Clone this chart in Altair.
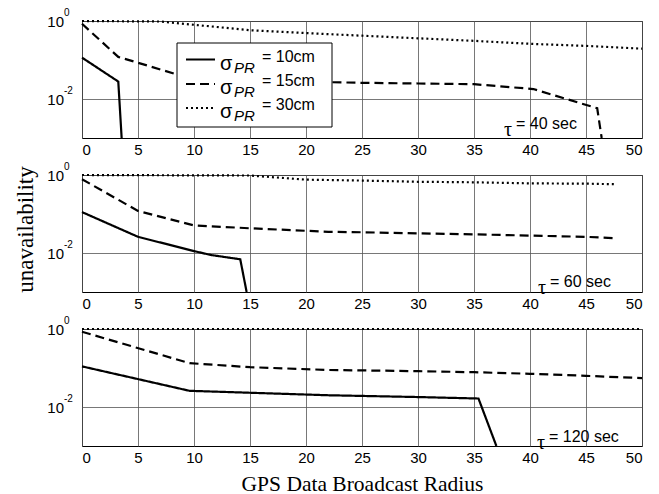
import altair as alt
import pandas as pd

# Broadcast radius (x) and unavailability (y) for each pseudorange sigma,
# one block per correction latency tau.

# tau = 40 sec
r40_10 = [0, 3.24, 3.54]
u40_10 = [0.115, 0.028, 0.001]
r40_15 = [0, 3.24, 5, 8.2, 15, 22, 25, 30, 35, 40.3, 46.0, 46.4]
u40_15 = [0.85, 0.12, 0.085, 0.045, 0.033, 0.027, 0.026, 0.025, 0.024, 0.018, 0.0058, 0.001]
r40_30 = [0, 7, 10, 15, 20, 25, 30, 35, 40, 45, 50]
u40_30 = [1.0, 0.97, 0.80, 0.58, 0.49, 0.42, 0.36, 0.31, 0.26, 0.23, 0.195]

# tau = 60 sec
r60_10 = [0, 5, 10, 11.5, 14.13, 14.7]
u60_10 = [0.112, 0.026, 0.0112, 0.0089, 0.0069, 0.001]
r60_15 = [0, 5, 10, 15, 22, 25, 35, 45, 47.5]
u60_15 = [0.78, 0.12, 0.051, 0.043, 0.035, 0.034, 0.030, 0.026, 0.024]
r60_30 = [0, 15, 20, 25, 30, 35, 40, 45, 47.5]
u60_30 = [1.0, 0.97, 0.76, 0.72, 0.67, 0.65, 0.61, 0.60, 0.58]

# tau = 120 sec
r120_10 = [0, 9.6, 22, 30, 35.4, 37.0]
u120_10 = [0.11, 0.026, 0.020, 0.018, 0.0165, 0.001]
r120_15 = [0, 9.6, 15, 22, 30, 35, 40, 45, 50]
u120_15 = [0.85, 0.133, 0.105, 0.089, 0.083, 0.078, 0.071, 0.063, 0.055]
r120_30 = [0, 50]
u120_30 = [1.0, 1.0]

series_names = ["10cm", "15cm", "30cm"]
x_ticks = list(range(0, 51, 5))
y_tick_vals = [1.0, 0.01]
y_tick_exps = ["0", "-2"]
tau_labels = ["= 40 sec", "= 60 sec", "= 120 sec"]

W, H = 560, 117
SANS = "Liberation Sans"
SERIF = "Liberation Serif"


def frame(rs, us):
    rows = []
    for name, r, u in zip(series_names, rs, us):
        for i, (a, b) in enumerate(zip(r, u)):
            rows.append({"r": a, "u": b, "s": name, "i": i})
    return pd.DataFrame(rows)


def panel(df, tau_text, tau_pos, legend=False, xtitle=False, ytitle=False):
    x_axis = dict(values=x_ticks, grid=True, ticks=False, domain=False,
                  labelFont=SANS, labelFontSize=15, labelPadding=4,
                  labelColor="black", title=None)
    if xtitle:
        x_axis.update(title="GPS Data Broadcast Radius", titleFont=SERIF,
                      titleFontSize=21.5, titleFontWeight="normal",
                      titleBaseline="alphabetic", titleY=44)
    y_axis = dict(values=y_tick_vals, grid=True, ticks=False, domain=False,
                  labels=False, title=None)
    if ytitle:
        y_axis.update(title="unavailability", titleFont=SERIF, titleFontSize=23,
                      titleFontWeight="normal", titleBaseline="middle",
                      titleX=-57, titleY=54, titleAngle=270)

    X = alt.X("r:Q", scale=alt.Scale(domain=[0, 50], nice=False, zero=False),
              axis=alt.Axis(**x_axis))
    Y = alt.Y("u:Q", scale=alt.Scale(type="log", domain=[0.001, 1], nice=False),
              axis=alt.Axis(**y_axis))

    lines = alt.Chart(df).mark_line(color="black", strokeWidth=2.2).encode(
        x=X, y=Y,
        order="i:Q",
        strokeDash=alt.StrokeDash(
            "s:N",
            scale=alt.Scale(domain=series_names, range=[[1, 0], [9, 5], [2, 3]]),
            legend=None,
        ),
    )

    ylab = pd.DataFrame({"u": y_tick_vals, "base": ["10", "10"], "e": y_tick_exps})
    ybase = alt.Chart(ylab).mark_text(font=SANS, fontSize=15, align="right",
                                      baseline="middle", dy=1).encode(
        x=alt.value(-18), y=Y, text="base:N")
    yexp = alt.Chart(ylab).mark_text(font=SANS, fontSize=10, align="left",
                                     baseline="middle", dy=-8).encode(
        x=alt.value(-18), y=Y, text="e:N")

    one = pd.DataFrame({"a": [0]})
    tx, ty = tau_pos
    tau = alt.Chart(one).mark_text(text="τ", font=SERIF, fontSize=20, align="left",
                                   baseline="middle").encode(
        x=alt.value(tx), y=alt.value(ty + 6))
    tau_t = alt.Chart(one).mark_text(text=tau_text, font=SANS, fontSize=16,
                                     align="left", baseline="middle").encode(
        x=alt.value(tx + 12), y=alt.value(ty))

    layers = [lines, ybase, yexp, tau, tau_t]

    if legend:
        box = alt.Chart(one).mark_rect(fill="white", stroke="black",
                                       strokeWidth=1).encode(
            x=alt.value(95), x2=alt.value(250), y=alt.value(22), y2=alt.value(106))
        layers.append(box)
        dashes = [[1, 0], [9, 5], [2, 3]]
        rows_y = [38.5, 63, 87]
        for name, d, yy in zip(series_names, dashes, rows_y):
            layers.append(alt.Chart(one).mark_rule(color="black", strokeWidth=2.2,
                                                   strokeDash=d).encode(
                x=alt.value(104), x2=alt.value(133), y=alt.value(yy)))
            layers.append(alt.Chart(one).mark_text(text="σ", font=SANS, fontSize=20,
                                                   align="left", baseline="middle").encode(
                x=alt.value(138), y=alt.value(yy + 4)))
            layers.append(alt.Chart(one).mark_text(text="PR", font=SANS, fontSize=15,
                                                   fontStyle="italic", align="left",
                                                   baseline="middle").encode(
                x=alt.value(152), y=alt.value(yy + 8)))
            layers.append(alt.Chart(one).mark_text(text="= " + name, font=SANS,
                                                   fontSize=16, align="left",
                                                   baseline="middle").encode(
                x=alt.value(180), y=alt.value(yy - 3)))

    return alt.layer(*layers).properties(width=W, height=H)


p1 = panel(frame([r40_10, r40_15, r40_30], [u40_10, u40_15, u40_30]),
           tau_labels[0], (422, 103), legend=True)
p2 = panel(frame([r60_10, r60_15, r60_30], [u60_10, u60_15, u60_30]),
           tau_labels[1], (456, 107), ytitle=True)
p3 = panel(frame([r120_10, r120_15, r120_30], [u120_10, u120_15, u120_30]),
           tau_labels[2], (455, 108), xtitle=True)

chart = alt.vconcat(p1, p2, p3, spacing=37, bounds="flush").properties(
    padding={"left": 13, "top": 7, "right": 5, "bottom": 5},
    background="white",
).configure_view(stroke="black", strokeWidth=1).configure_axis(
    gridColor="#555", gridWidth=0.8, gridOpacity=1,
)

chart.save("out.html", embed_options={"renderer": "svg", "actions": False})
